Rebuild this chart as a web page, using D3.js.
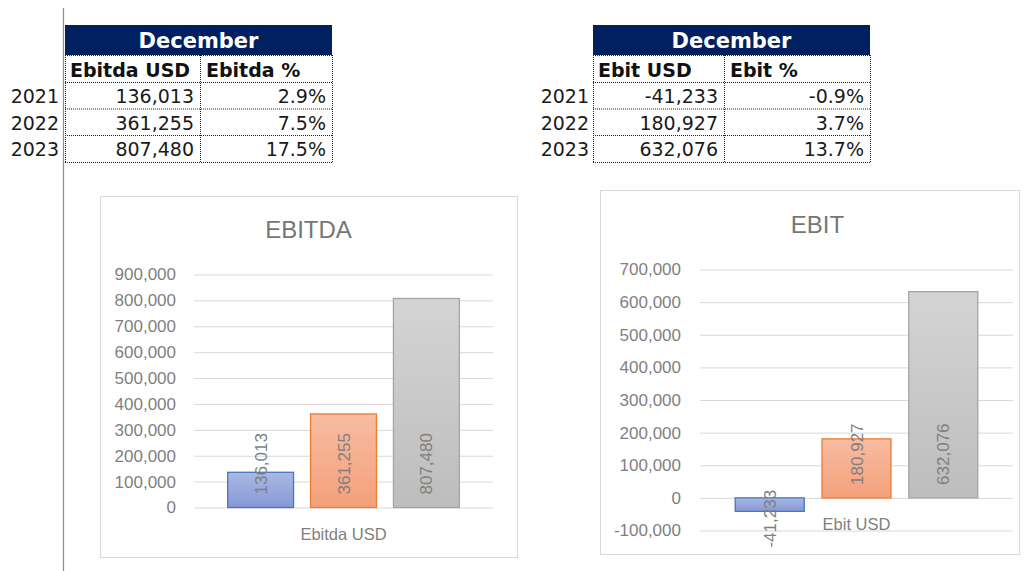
<!DOCTYPE html>
<html><head><meta charset="utf-8">
<script src="https://cdn.jsdelivr.net/npm/d3@7"></script>
<style>body{margin:0;background:#fff}svg{display:block}</style>
</head><body>
<svg id="c" width="1024" height="571"></svg>
<script>
const years = ["2021", "2022", "2023"];
const ebitdaUSD = [136013, 361255, 807480];
const ebitdaPct = [2.9, 7.5, 17.5];
const ebitUSD = [-41233, 180927, 632076];
const ebitPct = [-0.9, 3.7, 13.7];
const ebitdaTicks = [0, 100000, 200000, 300000, 400000, 500000, 600000, 700000, 800000, 900000];
const ebitTicks = [-100000, 0, 100000, 200000, 300000, 400000, 500000, 600000, 700000];

const loc = d3.formatLocale({decimal: ".", thousands: ",", grouping: [3], currency: ["$", ""], minus: "-"});
const fmtN = loc.format(",");
const fmtP = v => loc.format(".1f")(v) + "%";

const svg = d3.select("#c");
svg.append("rect").attr("width", 1024).attr("height", 571).attr("fill", "#fff");

// vertical separator line
svg.append("line").attr("x1", 63.5).attr("x2", 63.5).attr("y1", 8).attr("y2", 571)
  .attr("stroke", "#8c8c8c").attr("stroke-width", 1.2);

const defs = svg.append("defs");
const grads = [["gBlue", "#a9b8e3", "#8599d6"], ["gOrange", "#f7bca2", "#f4a07a"], ["gGray", "#d4d4d4", "#bdbdbd"]];
grads.forEach(([id, a, b]) => {
  const g = defs.append("linearGradient").attr("id", id).attr("x1", 0).attr("x2", 0).attr("y1", 0).attr("y2", 1);
  g.append("stop").attr("offset", "0%").attr("stop-color", a);
  g.append("stop").attr("offset", "100%").attr("stop-color", b);
});
const fills = ["url(#gBlue)", "url(#gOrange)", "url(#gGray)"];
const strokes = ["#4a74c4", "#ed7d31", "#a5a5a5"];

function table(cfg) {
  const g = svg.append("g");
  const {x0, x1, x2, colHeads, usd, pct, yearX} = cfg;
  const rowY = [55, 82, 108.5, 135, 162];
  g.append("rect").attr("x", x0).attr("y", 25).attr("width", x2 - x0).attr("height", 30).attr("fill", "#002060");
  g.append("text").attr("x", (x0 + x2) / 2).attr("y", 48).attr("text-anchor", "middle")
    .attr("font-family", "DejaVu Sans").attr("font-weight", "bold").attr("font-size", 21)
    .attr("fill", "#fff").text("December");
  const dot = {stroke: "#222", "stroke-width": 1, "stroke-dasharray": "1,1"};
  rowY.forEach(y => {
    const l = g.append("line").attr("x1", x0).attr("x2", x2).attr("y1", y + 0.5).attr("y2", y + 0.5);
    Object.entries(dot).forEach(([k, v]) => l.attr(k, v));
  });
  [x0, x1, x2].forEach(x => {
    const l = g.append("line").attr("x1", x + 0.5).attr("x2", x + 0.5).attr("y1", 55).attr("y2", 162);
    Object.entries(dot).forEach(([k, v]) => l.attr(k, v));
  });
  g.append("text").attr("x", x0 + 5).attr("y", 77).attr("font-family", "DejaVu Sans").attr("font-weight", "bold")
    .attr("font-size", 19).attr("fill", "#111").text(colHeads[0]);
  g.append("text").attr("x", x1 + 6).attr("y", 77).attr("font-family", "DejaVu Sans").attr("font-weight", "bold")
    .attr("font-size", 19).attr("fill", "#111").text(colHeads[1]);
  years.forEach((yr, i) => {
    const by = rowY[i + 1] + 21;
    g.append("text").attr("x", yearX).attr("y", by).attr("text-anchor", "end")
      .attr("font-family", "DejaVu Sans").attr("font-size", 19).attr("fill", "#1a1a1a").text(yr);
    g.append("text").attr("x", x1 - 6).attr("y", by).attr("text-anchor", "end")
      .attr("font-family", "DejaVu Sans").attr("font-size", 19).attr("fill", "#1a1a1a").text(fmtN(usd[i]));
    g.append("text").attr("x", x2 - 6).attr("y", by).attr("text-anchor", "end")
      .attr("font-family", "DejaVu Sans").attr("font-size", 19).attr("fill", "#1a1a1a").text(fmtP(pct[i]));
  });
}
table({x0: 65, x1: 200, x2: 332, colHeads: ["Ebitda USD", "Ebitda %"], usd: ebitdaUSD, pct: ebitdaPct, yearX: 59});
table({x0: 593, x1: 724, x2: 870, colHeads: ["Ebit USD", "Ebit %"], usd: ebitUSD, pct: ebitPct, yearX: 589});

function chart(cfg) {
  const {box, title, titleY, yDomain, yRange, xRange, ticks, values, cat, labelX} = cfg;
  const g = svg.append("g");
  g.append("rect").attr("x", box[0] + 0.5).attr("y", box[1] + 0.5).attr("width", box[2] - box[0]).attr("height", box[3] - box[1])
    .attr("fill", "#fff").attr("stroke", "#d9d9d9");
  const y = d3.scaleLinear().domain(yDomain).range(yRange);
  const x = d3.scaleBand().domain(years).range(xRange).paddingInner(0.193).paddingOuter(0.4);
  g.append("text").attr("x", (xRange[0] + xRange[1]) / 2 + cfg.titleDx).attr("y", titleY).attr("text-anchor", "middle")
    .attr("font-family", "Liberation Sans").attr("font-size", 24).attr("fill", "#767676").text(title);
  const axis = d3.axisLeft(y).tickValues(ticks).tickFormat(fmtN).tickSize(xRange[0] - xRange[1]).tickPadding(labelX);
  const ag = g.append("g").attr("transform", `translate(${xRange[0]},0)`).call(axis);
  ag.select(".domain").remove();
  ag.selectAll(".tick line").attr("stroke", "#d9d9d9").attr("stroke-width", 1)
    .attr("x1", 0).attr("x2", xRange[1] - xRange[0]);
  ag.selectAll(".tick text").attr("font-family", "Liberation Sans").attr("font-size", 17).attr("fill", "#7f7f7f")
    .attr("x", -labelX);
  const y0 = y(0);
  years.forEach((yr, i) => {
    const v = values[i];
    g.append("rect").attr("x", x(yr) + 0.5).attr("width", x.bandwidth() - 1)
      .attr("y", Math.min(y(v), y0)).attr("height", Math.abs(y(v) - y0))
      .attr("fill", fills[i]).attr("stroke", strokes[i]).attr("stroke-width", 1.3);
  });
  years.forEach((yr, i) => {
    const v = values[i];
    const cx = x(yr) + x.bandwidth() / 2;
    const ly = v >= 0 ? y0 - 13 : y0 - 8;
    g.append("text").attr("transform", `translate(${cx + 6},${ly}) rotate(-90)`)
      .attr("text-anchor", v >= 0 ? "start" : "end")
      .attr("font-family", "Liberation Sans").attr("font-size", 17).attr("fill", "#7f7f7f").text(fmtN(v));
  });
  g.append("text").attr("x", (xRange[0] + xRange[1]) / 2).attr("y", y0 + 32).attr("text-anchor", "middle")
    .attr("font-family", "Liberation Sans").attr("font-size", 16.5).attr("fill", "#7f7f7f").text(cat);
}
chart({box: [100, 196, 517, 557], title: "EBITDA", titleY: 238, titleDx: -35, yDomain: [0, 900000], yRange: [507.5, 274.5],
  xRange: [194, 493], ticks: ebitdaTicks, values: ebitdaUSD, cat: "Ebitda USD", labelX: 18});
chart({box: [600, 190, 1019, 554], title: "EBIT", titleY: 233, titleDx: -39, yDomain: [-100000, 700000], yRange: [530.5, 269.5],
  xRange: [700, 1013], ticks: ebitTicks, values: ebitUSD, cat: "Ebit USD", labelX: 19});
</script>
</body></html>
